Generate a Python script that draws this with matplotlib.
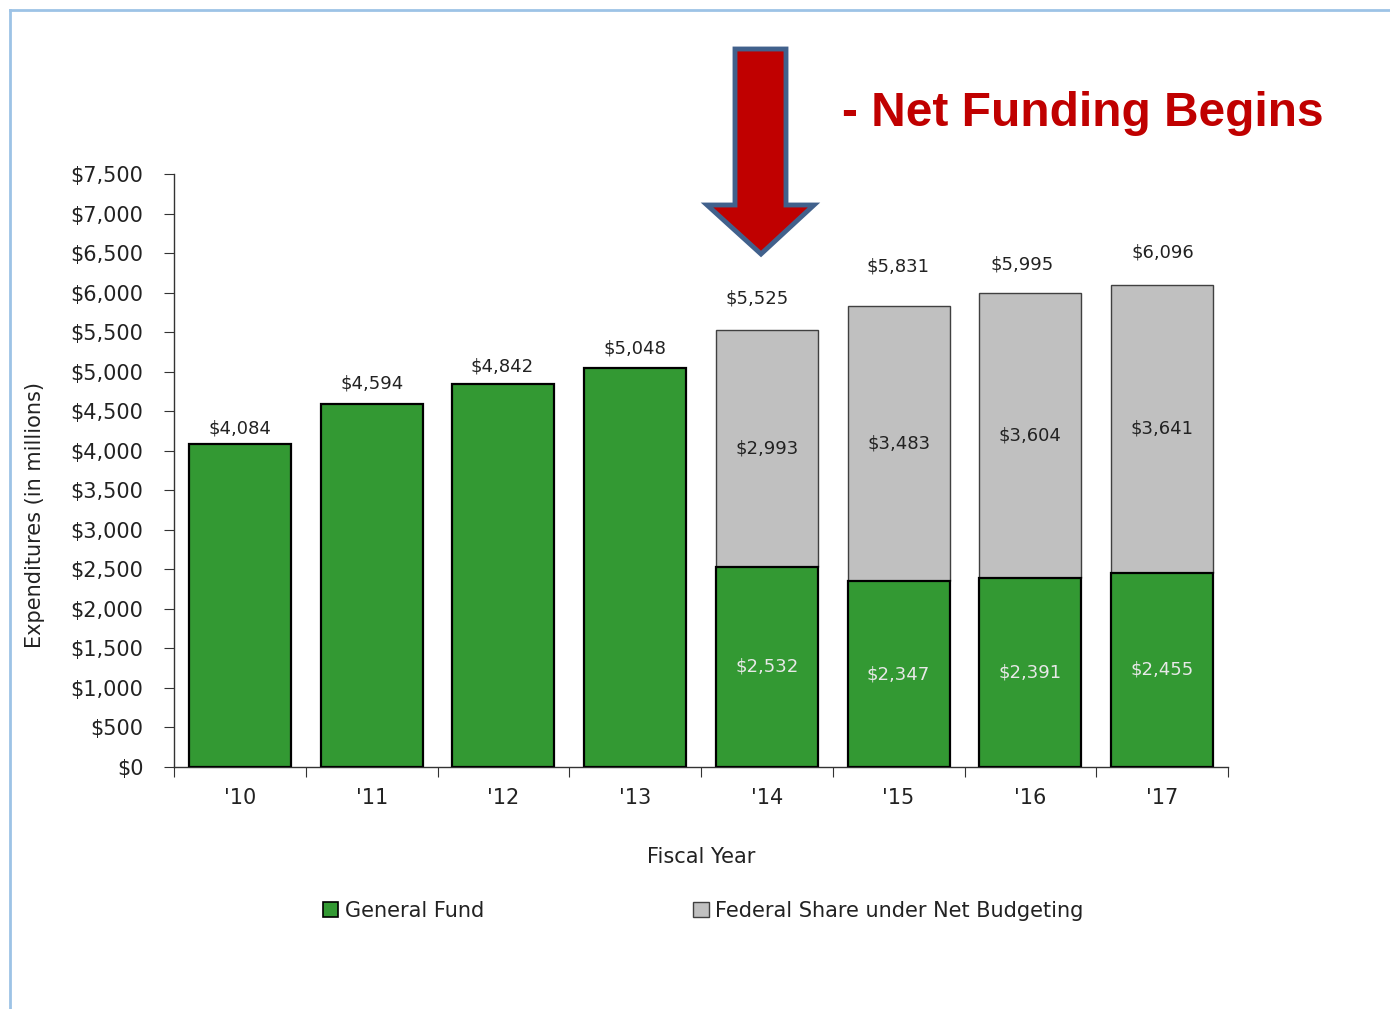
import numpy as np
import matplotlib
matplotlib.use('Agg')
import matplotlib.pyplot as plt
from matplotlib.patches import Patch, Polygon
from matplotlib.lines import Line2D
from matplotlib.ticker import FuncFormatter, MultipleLocator

years = ["'10", "'11", "'12", "'13", "'14", "'15", "'16", "'17"]
general_fund = [4084, 4594, 4842, 5048, 2532, 2347, 2391, 2455]
federal_share = [0, 0, 0, 0, 2993, 3483, 3604, 3641]
totals = [4084, 4594, 4842, 5048, 5525, 5831, 5995, 6096]

# small nudges of the total labels (pixels), as in the original slide
total_dx = [0, 0, -1, 0, -10, -1, -8, 1]
total_dy = [16, 20, 18, 19, 32, 39, 28, 33]

W, H = 1390, 1009
GREEN = '#339933'
GREY = '#C0C0C0'
TXT = '#222222'

plt.rcParams['font.family'] = ['DejaVu Sans']

fig = plt.figure(figsize=(W / 100, H / 100), dpi=100)
ax = fig.add_axes([174 / W, 1 - 767 / H, (1228 - 174) / W, (767 - 174) / H])

x = np.arange(len(years))
width = 0.775
ax.bar(x, general_fund, width, color=GREEN, edgecolor='black', linewidth=1.6, zorder=3)
ax.bar(x[4:], federal_share[4:], width, bottom=general_fund[4:], color=GREY,
       edgecolor='#404040', linewidth=1.0, zorder=2)

for i in range(len(years)):
    ax.annotate('${:,}'.format(totals[i]), (x[i], totals[i]),
                xytext=(total_dx[i], total_dy[i]), textcoords='offset pixels',
                ha='center', va='center', fontsize=13, color=TXT)
    if federal_share[i] > 0:
        ax.text(x[i], general_fund[i] / 2, '${:,}'.format(general_fund[i]),
                ha='center', va='center', fontsize=13, color='#E8E8E8')
        ax.text(x[i], general_fund[i] + federal_share[i] / 2, '${:,}'.format(federal_share[i]),
                ha='center', va='center', fontsize=13, color=TXT)

ax.set_xlim(-0.5, len(years) - 0.5)
ax.set_ylim(0, 7500)
ax.yaxis.set_major_locator(MultipleLocator(500))
ax.yaxis.set_major_formatter(FuncFormatter(lambda v, p: '${:,.0f}'.format(v)))

ax.set_xticks(np.arange(len(years) + 1) - 0.5)
ax.set_xticklabels([])
ax.set_xticks(x, minor=True)
ax.set_xticklabels(years, minor=True)
ax.tick_params(axis='x', which='major', length=7, direction='out', color='#333333')
ax.tick_params(axis='x', which='minor', length=0, pad=15, labelsize=15, labelcolor=TXT)
ax.tick_params(axis='y', length=7, direction='out', pad=15, labelsize=15,
               labelcolor=TXT, color='#333333')

for s in ['top', 'right']:
    ax.spines[s].set_visible(False)
for s in ['left', 'bottom']:
    ax.spines[s].set_color('#333333')
    ax.spines[s].set_linewidth(1.0)

ax.set_xlabel('Fiscal Year', fontsize=15, color=TXT, labelpad=28)
ax.set_ylabel('Expenditures (in millions)', fontsize=15, color=TXT, labelpad=18)
ax.yaxis.label.set_y(0.425)

handles = [Patch(facecolor=GREEN, edgecolor='black', linewidth=1.2, label='General Fund'),
           Patch(facecolor=GREY, edgecolor='#404040', linewidth=1.0,
                 label='Federal Share under Net Budgeting')]
fig.legend(handles=handles, loc='center', bbox_to_anchor=(703 / W, 1 - 911 / H), ncol=2,
           frameon=False, fontsize=15, handlelength=0.75, handleheight=0.75,
           handletextpad=0.3, columnspacing=10.05, labelcolor=TXT)


def fp(px, py):
    return (px / W, 1 - py / H)


# arrow pointing at FY '14
arrow_px = [(735, 49), (786, 49), (786, 205), (814, 205), (761, 254), (707, 205), (735, 205)]
fig.patches.append(Polygon([fp(a, b) for a, b in arrow_px], closed=True,
                           transform=fig.transFigure, facecolor='#C00000',
                           edgecolor='#41618C', linewidth=3.5, joinstyle='miter'))
fig.text(842 / W, 1 - 114 / H, '- Net Funding Begins', fontsize=34.5, fontweight='bold',
         color='#C00000', family='Liberation Sans', ha='left', va='center')

# slide border
fig.add_artist(Line2D([10 / W, 1], [1 - 10 / H, 1 - 10 / H], transform=fig.transFigure,
                      color='#9DC3E6', linewidth=2))
fig.add_artist(Line2D([10 / W, 10 / W], [0, 1 - 10 / H], transform=fig.transFigure,
                      color='#9DC3E6', linewidth=2))

fig.savefig('out.png', dpi=100, facecolor='white')
